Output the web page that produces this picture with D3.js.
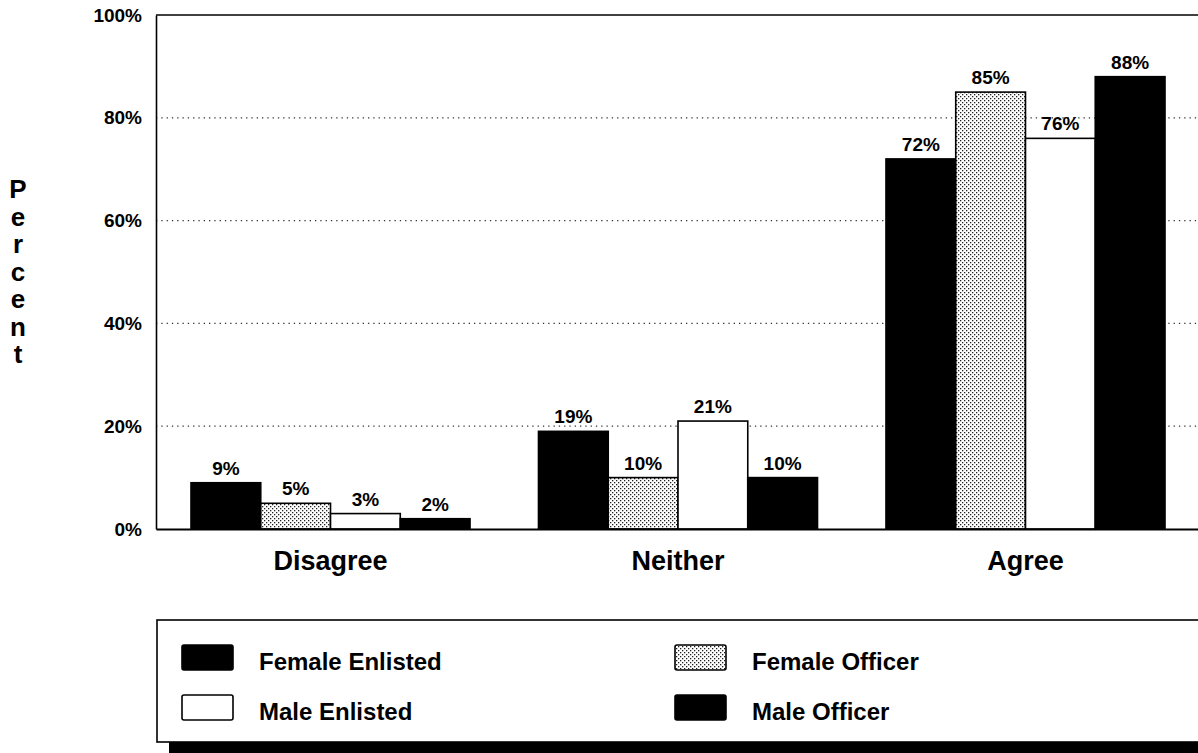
<!DOCTYPE html>
<html>
<head>
<meta charset="utf-8">
<script src="https://cdn.jsdelivr.net/npm/d3@7"></script>
<style>
  html, body { margin: 0; padding: 0; background: #fff; }
  svg { display: block; }
  text { font-family: "Liberation Sans", Arial, Helvetica, sans-serif; font-weight: bold; fill: #000; }
</style>
</head>
<body>
<script>
const categories = ["Disagree", "Neither", "Agree"];
const seriesNames = ["Female Enlisted", "Female Officer", "Male Enlisted", "Male Officer"];
const femaleEnlisted = [9, 19, 72];
const femaleOfficer = [5, 10, 85];
const maleEnlisted = [3, 21, 76];
const maleOfficer = [2, 10, 88];
const yTicks = [0, 20, 40, 60, 80, 100];
const yTickLabels = ["0%", "20%", "40%", "60%", "80%", "100%"];
const axisTitle = "Percent";

const seriesValues = [femaleEnlisted, femaleOfficer, maleEnlisted, maleOfficer];

const W = 1198, H = 753;
const svg = d3.select("body").append("svg").attr("width", W).attr("height", H);

// pattern for Female Officer
const defs = svg.append("defs");
const pat = defs.append("pattern").attr("id", "dots")
  .attr("patternUnits", "userSpaceOnUse").attr("width", 4).attr("height", 4);
pat.append("rect").attr("width", 4).attr("height", 4).attr("fill", "#fff");
pat.append("rect").attr("x", 0).attr("y", 0).attr("width", 1.3).attr("height", 1.3).attr("fill", "#222");
pat.append("rect").attr("x", 2).attr("y", 2).attr("width", 1.3).attr("height", 1.3).attr("fill", "#222");

const fills = { "Female Enlisted": "#000", "Female Officer": "url(#dots)", "Male Enlisted": "#fff", "Male Officer": "#000" };

const plotLeft = 156, plotRight = 1200, plotTop = 15, plotBottom = 529;

const x = d3.scaleBand().domain(categories).range([plotLeft, plotRight])
  .paddingInner(0.197).paddingOuter(0.1007);
const xs = d3.scaleBand().domain(seriesNames).range([0, x.bandwidth()]).padding(0);
const y = d3.scaleLinear().domain([0, 100]).range([plotBottom, plotTop]);

// gridlines
svg.append("g").selectAll("line").data(yTicks.filter(t => t > 0 && t < 100)).join("line")
  .attr("x1", plotLeft).attr("x2", plotRight)
  .attr("y1", d => y(d)).attr("y2", d => y(d))
  .attr("stroke", "#333").attr("stroke-width", 1.2).attr("stroke-dasharray", "1.3,4");

// y axis
const yAxis = d3.axisLeft(y).tickValues(yTicks).tickSize(0).tickPadding(14)
  .tickFormat((d, i) => yTickLabels[i]);
const gy = svg.append("g").attr("transform", `translate(${plotLeft},0)`).call(yAxis);
gy.select(".domain").attr("stroke", "#000").attr("stroke-width", 1.6);
gy.selectAll("text").style("font-size", "19px").style("font-family", "'Liberation Sans', Arial, sans-serif").style("font-weight", "bold").attr("fill", "#000");

// top frame
svg.append("line").attr("x1", plotLeft).attr("x2", plotRight).attr("y1", y(100)).attr("y2", y(100))
  .attr("stroke", "#000").attr("stroke-width", 1.6);

// bars
const barData = [];
categories.forEach((c, ci) => seriesNames.forEach((s, si) => barData.push({ c, s, v: seriesValues[si][ci] })));

const gBars = svg.append("g");
gBars.selectAll("rect").data(barData).join("rect")
  .attr("x", d => x(d.c) + xs(d.s))
  .attr("y", d => y(d.v))
  .attr("width", xs.bandwidth())
  .attr("height", d => y(0) - y(d.v))
  .attr("fill", d => fills[d.s])
  .attr("stroke", "#000").attr("stroke-width", 1.6);

gBars.selectAll("text").data(barData).join("text")
  .attr("x", d => x(d.c) + xs(d.s) + xs.bandwidth() / 2)
  .attr("y", d => y(d.v) - 8)
  .attr("text-anchor", "middle")
  .style("font-size", "19px")
  .text(d => d.v + "%");

// x axis baseline
const xAxis = d3.axisBottom(x).tickSize(0).tickPadding(22);
const gx = svg.append("g").attr("transform", `translate(0,${plotBottom})`).call(xAxis);
gx.select(".domain").attr("stroke", "#000").attr("stroke-width", 1.8);
gx.selectAll("text").style("font-size", "27px").style("font-family", "'Liberation Sans', Arial, sans-serif").style("font-weight", "bold").attr("fill", "#000");

// axis title, stacked letters
svg.append("g").selectAll("text").data(axisTitle.split("")).join("text")
  .attr("x", 18).attr("y", (d, i) => 198 + i * 27.5)
  .attr("text-anchor", "middle")
  .style("font-size", "26px")
  .text(d => d);

// legend
const lg = svg.append("g");
lg.append("rect").attr("x", 169).attr("y", 741).attr("width", 1100).attr("height", 12).attr("fill", "#000");
lg.append("rect").attr("x", 157).attr("y", 620).attr("width", 1100).attr("height", 122)
  .attr("fill", "#fff").attr("stroke", "#000").attr("stroke-width", 1.6);

const legendPos = [
  { s: "Female Enlisted", col: 0, row: 0 },
  { s: "Female Officer", col: 1, row: 0 },
  { s: "Male Enlisted", col: 0, row: 1 },
  { s: "Male Officer", col: 1, row: 1 }
];
const colX = [182, 675], rowY = [645, 695];
const items = lg.selectAll("g.item").data(legendPos).join("g").attr("class", "item");
items.append("rect")
  .attr("x", d => colX[d.col]).attr("y", d => rowY[d.row])
  .attr("width", 51).attr("height", 25).attr("rx", 2)
  .attr("fill", d => fills[d.s]).attr("stroke", "#000").attr("stroke-width", 1.6);
items.append("text")
  .attr("x", d => colX[d.col] + 77).attr("y", d => rowY[d.row] + 25)
  .style("font-size", "24px")
  .text(d => d.s);
</script>
</body>
</html>
